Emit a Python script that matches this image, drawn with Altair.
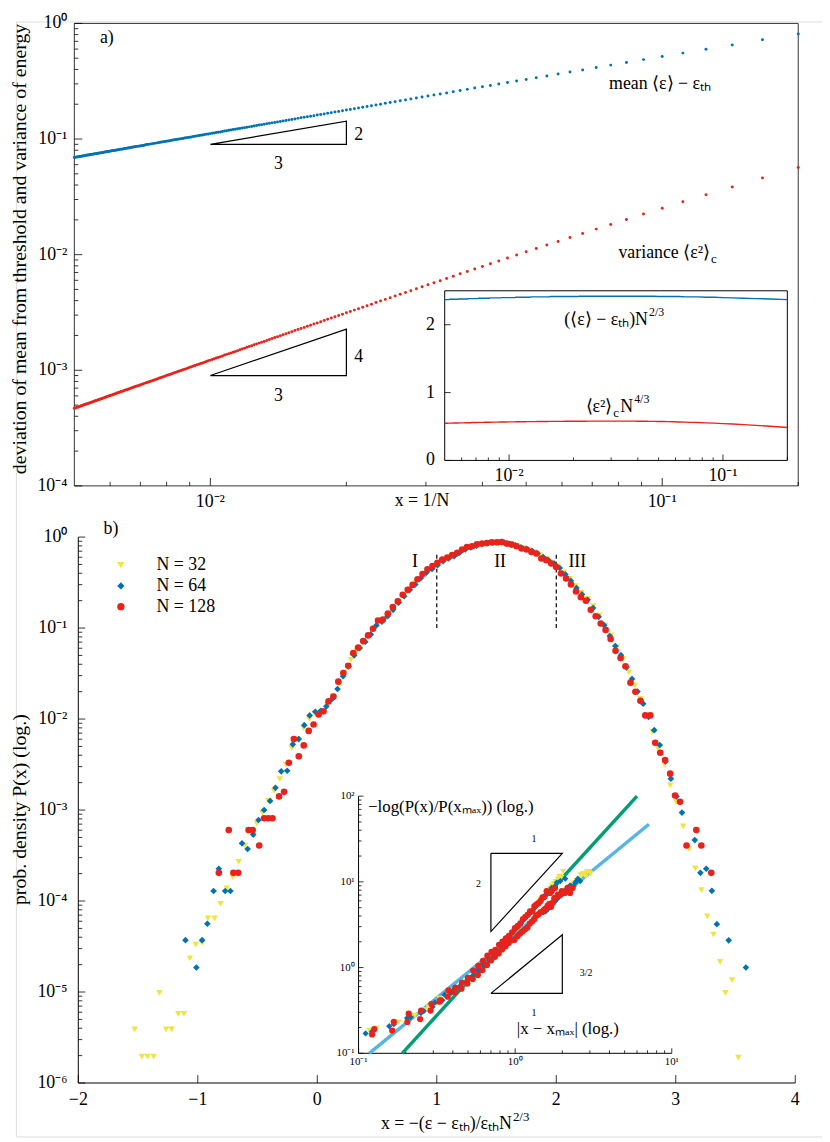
import altair as alt
import pandas as pd

FONT = "Liberation Serif"
BLUE = "#0072B2"
RED = "#E8231B"
YELLOW = "#F0E442"
GREEN = "#009E73"
SKY = "#56B4E9"

# ---------------- panel a data ----------------
N_VALUES = list(range(5, 201))
MEAN_AMP = [
    2.370, 2.380, 2.385, 2.390, 2.395,
    2.400, 2.405, 2.405, 2.410, 2.410, 2.410, 2.415, 2.415, 2.415, 2.415,
    2.415, 2.420, 2.420, 2.420, 2.420, 2.420, 2.420, 2.420, 2.420, 2.420,
    2.420, 2.420, 2.420, 2.420, 2.420, 2.420, 2.420, 2.420, 2.420, 2.420,
    2.420, 2.420, 2.420, 2.420, 2.420, 2.420, 2.420, 2.420, 2.415, 2.415,
    2.415, 2.415, 2.415, 2.415, 2.415, 2.415, 2.415, 2.415, 2.415, 2.415,
    2.415, 2.415, 2.415, 2.415, 2.415, 2.410, 2.410, 2.410, 2.410, 2.410,
    2.410, 2.410, 2.410, 2.410, 2.410, 2.410, 2.410, 2.410, 2.410, 2.410,
    2.405, 2.405, 2.405, 2.405, 2.405, 2.405, 2.405, 2.405, 2.405, 2.405,
    2.405, 2.405, 2.405, 2.405, 2.400, 2.400, 2.400, 2.400, 2.400, 2.400,
    2.400, 2.400, 2.400, 2.400, 2.400, 2.400, 2.400, 2.400, 2.400, 2.395,
    2.395, 2.395, 2.395, 2.395, 2.395, 2.395, 2.395, 2.395, 2.395, 2.395,
    2.395, 2.395, 2.395, 2.395, 2.390, 2.390, 2.390, 2.390, 2.390, 2.390,
    2.390, 2.390, 2.390, 2.390, 2.390, 2.390, 2.390, 2.390, 2.390, 2.390,
    2.385, 2.385, 2.385, 2.385, 2.385, 2.385, 2.385, 2.385, 2.385, 2.385,
    2.385, 2.385, 2.385, 2.385, 2.385, 2.385, 2.380, 2.380, 2.380, 2.380,
    2.380, 2.380, 2.380, 2.380, 2.380, 2.380, 2.380, 2.380, 2.380, 2.380,
    2.380, 2.380, 2.380, 2.375, 2.375, 2.375, 2.375, 2.375, 2.375, 2.375,
    2.375, 2.375, 2.375, 2.375, 2.375, 2.375, 2.375, 2.375, 2.375, 2.375,
    2.375, 2.370, 2.370, 2.370, 2.370, 2.370, 2.370, 2.370, 2.370, 2.370,
    2.370,
]
VAR_AMP = [
    0.485, 0.503, 0.516, 0.527, 0.536,
    0.543, 0.549, 0.554, 0.558, 0.561, 0.564, 0.567, 0.569, 0.571, 0.573,
    0.574, 0.575, 0.576, 0.577, 0.578, 0.578, 0.579, 0.579, 0.580, 0.580,
    0.580, 0.580, 0.580, 0.580, 0.580, 0.580, 0.580, 0.580, 0.580, 0.580,
    0.580, 0.580, 0.580, 0.580, 0.578, 0.578, 0.578, 0.578, 0.578, 0.578,
    0.578, 0.578, 0.578, 0.578, 0.578, 0.578, 0.576, 0.576, 0.576, 0.576,
    0.576, 0.576, 0.576, 0.576, 0.576, 0.576, 0.574, 0.574, 0.574, 0.574,
    0.574, 0.574, 0.574, 0.574, 0.574, 0.572, 0.572, 0.572, 0.572, 0.572,
    0.572, 0.572, 0.572, 0.572, 0.570, 0.570, 0.570, 0.570, 0.570, 0.570,
    0.570, 0.570, 0.570, 0.570, 0.568, 0.568, 0.568, 0.568, 0.568, 0.568,
    0.568, 0.568, 0.568, 0.566, 0.566, 0.566, 0.566, 0.566, 0.566, 0.566,
    0.566, 0.566, 0.564, 0.564, 0.564, 0.564, 0.564, 0.564, 0.564, 0.564,
    0.564, 0.564, 0.562, 0.562, 0.562, 0.562, 0.562, 0.562, 0.562, 0.562,
    0.562, 0.560, 0.560, 0.560, 0.560, 0.560, 0.560, 0.560, 0.560, 0.560,
    0.560, 0.558, 0.558, 0.558, 0.558, 0.558, 0.558, 0.558, 0.558, 0.558,
    0.558, 0.556, 0.556, 0.556, 0.556, 0.556, 0.556, 0.556, 0.556, 0.556,
    0.556, 0.556, 0.554, 0.554, 0.554, 0.554, 0.554, 0.554, 0.554, 0.554,
    0.554, 0.554, 0.552, 0.552, 0.552, 0.552, 0.552, 0.552, 0.552, 0.552,
    0.552, 0.552, 0.552, 0.550, 0.550, 0.550, 0.550, 0.550, 0.550, 0.550,
    0.550, 0.550, 0.550, 0.550, 0.548, 0.548, 0.548, 0.548, 0.548, 0.548,
    0.548,
]
TRI_A_ID = ["t1"] * 4 + ["t2"] * 4
TRI_A_I = [0, 1, 2, 3, 0, 1, 2, 3]
TRI_A_X = [0.01, 0.02, 0.02, 0.01, 0.01, 0.02, 0.02, 0.01]
TRI_A_Y = [0.09, 0.09, 0.1429, 0.09, 0.0009, 0.0009, 0.00227, 0.0009]

# ---------------- panel b data (x, log10 P) ----------------
Y32_X = [-1.528, -1.467, -1.420, -1.370, -1.321, -1.265, -1.218, -1.163, -1.116, -1.066,
         -1.017, -0.964, -0.915, -0.859, -0.810, -0.757, -0.708, -0.658, -0.606, -0.550,
         -0.506, -0.459, -0.410, -0.362,
         -0.313, -0.264, -0.214, -0.165, -0.115, -0.066, -0.016, 0.033, 0.083, 0.132,
         0.182, 0.231, 0.281, 0.330, 0.380, 0.429, 0.479, 0.528, 0.578, 0.627,
         0.677, 0.726, 0.776, 0.825, 0.875, 0.924, 0.974, 1.023, 1.073, 1.122,
         1.172, 1.221, 1.271, 1.320, 1.370, 1.419, 1.469, 1.518, 1.568, 1.617,
         1.667, 1.716, 1.766, 1.815, 1.865, 1.914, 1.964, 2.013, 2.063, 2.112,
         2.162, 2.211, 2.261, 2.310, 2.360, 2.409, 2.459, 2.508, 2.558, 2.607,
         2.657, 2.706, 2.756, 2.805, 2.855, 2.904, 2.954, 3.003,
         3.062, 3.112, 3.164, 3.214, 3.264, 3.316, 3.371, 3.416, 3.471, 3.524]
Y32_LP = [-5.41, -5.71, -5.71, -5.71, -5.01, -5.41, -5.41, -5.24, -5.24, -4.63,
          -4.48, -4.46, -4.19, -4.19, -4.03, -3.86, -3.74, -3.57, -3.39, -3.26,
          -3.15, -3.03, -2.90, -2.79,
          -2.66, -2.50, -2.32, -2.22, -2.10, -2.00, -1.94, -1.92, -1.85, -1.75,
          -1.62, -1.49, -1.35, -1.25, -1.16, -1.09, -1.00, -0.93, -0.87, -0.79,
          -0.71, -0.64, -0.57, -0.50, -0.43, -0.37, -0.33, -0.29, -0.25, -0.22,
          -0.19, -0.15, -0.12, -0.10, -0.085, -0.075, -0.068, -0.065, -0.068, -0.08,
          -0.095, -0.12, -0.14, -0.165, -0.20, -0.24, -0.28, -0.32, -0.39, -0.46,
          -0.54, -0.61, -0.68, -0.76, -0.86, -0.97, -1.08, -1.21, -1.34, -1.487,
          -1.63, -1.777, -1.96, -2.14, -2.33, -2.50, -2.73, -2.91,
          -3.18, -3.43, -3.64, -3.88, -4.17, -4.37, -4.67, -5.01, -4.87, -5.72]

B64_X = [-1.103, -1.012, -0.964, -0.920, -0.868, -0.824, -0.771, -0.727, -0.630, -0.583,
         -0.536, -0.492, -0.445, -0.395, -0.350, -0.302, -0.252, -0.205, -0.155, -0.109,
         -0.064, -0.017,
         0.030, 0.076, 0.123, 0.169, 0.216, 0.262, 0.309, 0.355, 0.402, 0.448,
         0.495, 0.541, 0.588, 0.634, 0.681, 0.727, 0.774, 0.820, 0.867, 0.913,
         0.960, 1.006, 1.053, 1.099, 1.146, 1.192, 1.239, 1.285, 1.332, 1.378,
         1.425, 1.471, 1.518, 1.564, 1.611, 1.657, 1.704, 1.750, 1.797, 1.843,
         1.890, 1.936, 1.983, 2.029, 2.076, 2.122, 2.169, 2.215, 2.262, 2.308,
         2.355, 2.401, 2.448, 2.494, 2.541, 2.587, 2.634, 2.680, 2.727, 2.773,
         2.820, 2.866, 2.913, 2.959, 3.006, 3.052,
         3.159, 3.206, 3.255, 3.302, 3.344, 3.443, 3.587]
B64_LP = [-4.43, -4.73, -4.43, -4.25, -3.89, -3.645, -3.89, -3.89, -3.366, -3.428,
          -3.27, -3.11, -3.00, -2.90, -2.756, -2.575, -2.568, -2.278, -2.22, -2.067,
          -1.96, -1.92,
          -1.91, -1.86, -1.78, -1.67, -1.53, -1.42, -1.30, -1.22, -1.15, -1.07,
          -0.97, -0.93, -0.87, -0.80, -0.72, -0.65, -0.58, -0.52, -0.45, -0.39,
          -0.35, -0.31, -0.265, -0.235, -0.21, -0.17, -0.135, -0.115, -0.095, -0.078,
          -0.068, -0.062, -0.058, -0.060, -0.074, -0.09, -0.112, -0.128, -0.152, -0.18,
          -0.22, -0.255, -0.29, -0.34, -0.41, -0.48, -0.56, -0.63, -0.69, -0.78,
          -0.877, -0.97, -1.088, -1.197, -1.298, -1.432, -1.559, -1.697, -1.831, -1.976,
          -2.122, -2.285, -2.466, -2.655, -2.85, -3.028,
          -3.33, -3.69, -3.645, -3.888, -4.254, -4.432, -4.73]

R128_X = [-0.824, -0.741, -0.702, -0.662, -0.575, -0.540, -0.486, -0.445, -0.410, -0.375,
          -0.320, -0.278, -0.238, -0.196, -0.155, -0.113, -0.072, -0.031, 0.011, 0.052,
          0.094, 0.135, 0.176, 0.218, 0.259, 0.301, 0.342, 0.384, 0.425, 0.466,
          0.508, 0.549, 0.591, 0.632, 0.674, 0.715, 0.757, 0.798, 0.839, 0.881,
          0.922, 0.964, 1.005, 1.046, 1.088, 1.129, 1.171, 1.212, 1.253, 1.295,
          1.336, 1.378, 1.419, 1.460, 1.502, 1.543, 1.585, 1.626, 1.668, 1.709,
          1.751, 1.792, 1.833, 1.875, 1.916, 1.958, 1.999, 2.040, 2.082, 2.123,
          2.165, 2.206, 2.248, 2.289, 2.330, 2.372, 2.413, 2.455, 2.496, 2.538,
          2.579, 2.621, 2.662, 2.704, 2.745, 2.787, 2.828, 2.870, 2.911, 2.953,
          2.994, 3.036, 3.090, 3.172, 3.214, 3.297]
R128_LP = [-3.69, -3.22, -3.69, -3.69, -3.22, -3.22, -3.39, -3.09, -3.09, -3.09,
           -2.85, -2.80, -2.48, -2.22, -2.41, -2.29, -2.13, -2.06, -1.95, -1.915,
           -1.806, -1.752, -1.589, -1.494, -1.415, -1.276, -1.215, -1.143, -1.081, -1.008,
           -0.917, -0.906, -0.841, -0.769, -0.707, -0.634, -0.580, -0.526, -0.464, -0.406,
           -0.355, -0.319, -0.283, -0.246, -0.224, -0.199, -0.174, -0.137, -0.109, -0.101,
           -0.080, -0.072, -0.065, -0.058, -0.058, -0.054, -0.072, -0.083, -0.101, -0.126,
           -0.137, -0.163, -0.181, -0.235, -0.254, -0.290, -0.330, -0.400, -0.455, -0.520,
           -0.598, -0.660, -0.700, -0.800, -0.870, -0.950, -1.020, -1.120, -1.250, -1.330,
           -1.420, -1.600, -1.700, -1.800, -1.960, -1.960, -2.260, -2.370, -2.450, -2.600,
           -2.840, -2.910, -3.390, -3.220, -3.390, -3.690]

SERIES = ["N = 32", "N = 64", "N = 128"]
SERIES_COLORS = [YELLOW, BLUE, RED]
SERIES_SHAPES = ["triangle-down", "diamond", "circle"]

REGION_X = [1.0, 2.0]
REGION_Y0 = [0.1, 0.1]
REGION_Y1 = [0.66, 0.66]

# inset b
X_MAX = 1.5
P_MAX = 1.0
FIT_ID = ["slope2", "slope2", "slope32", "slope32"]
FIT_X = [0.19, 6.0, 0.117, 7.15]
FIT_Y = [0.1, 100.0, 0.1, 47.0]
TRI_B_ID = ["u"] * 4 + ["l"] * 4
TRI_B_I = [0, 1, 2, 3, 0, 1, 2, 3]
TRI_B_X = [0.7, 2.0, 0.7, 0.7, 0.7, 2.0, 2.0, 0.7]
TRI_B_Y = [21.5, 21.5, 2.63, 21.5, 0.5, 0.5, 2.41, 0.5]

# ticks and tick labels
MINOR = [2, 3, 4, 5, 6, 7, 8, 9]
A_Y_MAJOR = [1e-4, 1e-3, 1e-2, 1e-1, 1.0]
A_Y_LABELS = ["10⁻⁴", "10⁻³", "10⁻²", "10⁻¹", "10⁰"]
A_Y_MINOR = [m * 10.0 ** d for d in (-4, -3, -2, -1) for m in MINOR]
A_X_MAJOR = [0.01, 0.1]
A_X_LABELS = ["10⁻²", "10⁻¹"]
A_X_MINOR = [0.006, 0.007, 0.008, 0.009] + [m * 0.01 for m in MINOR] + [0.2]
IA_Y_MAJOR = [0, 1, 2]
IA_Y_LABELS = ["0", "1", "2"]
B_X_MAJOR = [-2, -1, 0, 1, 2, 3, 4]
B_X_LABELS = ["−2", "−1", "0", "1", "2", "3", "4"]
B_Y_MAJOR = [1e-6, 1e-5, 1e-4, 1e-3, 1e-2, 1e-1, 1.0]
B_Y_LABELS = ["10⁻⁶", "10⁻⁵", "10⁻⁴", "10⁻³", "10⁻²", "10⁻¹", "10⁰"]
B_Y_MINOR = [m * 10.0 ** d for d in range(-6, 0) for m in MINOR]
IB_X_MAJOR = [0.1, 1.0, 10.0]
IB_X_LABELS = ["10⁻¹", "10⁰", "10¹"]
IB_X_MINOR = [m * 10.0 ** d for d in (-1, 0) for m in MINOR]
IB_Y_MAJOR = [0.1, 1.0, 10.0, 100.0]
IB_Y_LABELS = ["10⁻¹", "10⁰", "10¹", "10²"]
IB_Y_MINOR = [m * 10.0 ** d for d in (-1, 0, 1) for m in MINOR]

# ---------------- layout (pixels in the plotting group) ----------------
W, H = 814, 1126
AX = [59, 790]; AY = [469, 2]
IAX = [433, 779]; IAY = [443.3, 272]
BX = [63, 787]; BY = [1072, 520.7]
IBX = [346, 662.3]; IBY = [1042, 782.3]

scA_x = alt.Scale(type="log", domain=[0.005, 0.2], range=AX)
scA_y = alt.Scale(type="log", domain=[1e-4, 1.0], range=AY)
scIA_x = alt.Scale(type="log", domain=[0.005, 0.2], range=IAX)
scIA_y = alt.Scale(type="linear", domain=[0, 2.5], range=IAY)
scB_x = alt.Scale(type="linear", domain=[-2, 4], range=BX)
scB_y = alt.Scale(type="log", domain=[1e-6, 1.0], range=BY)
scIB_x = alt.Scale(type="log", domain=[0.1, 10], range=IBX)
scIB_y = alt.Scale(type="log", domain=[0.1, 100], range=IBY)


def yticks(vals, sc, x0, length):
    return alt.Chart(pd.DataFrame({"v": vals})).mark_rule(color="black", strokeWidth=0.8).encode(
        y=alt.Y("v:Q", scale=sc, axis=None), x=alt.value(x0), x2=alt.value(x0 + length))


def xticks(vals, sc, y0, length):
    return alt.Chart(pd.DataFrame({"v": vals})).mark_rule(color="black", strokeWidth=0.8).encode(
        x=alt.X("v:Q", scale=sc, axis=None), y=alt.value(y0), y2=alt.value(y0 - length))


def texts(rows, sx, sy, size=18, **kw):
    df = pd.DataFrame(rows, columns=["t", "x", "y"])
    return alt.Chart(df).mark_text(font=FONT, color="black", fontSize=size, **kw).encode(
        x=alt.X("x:Q", scale=sx, axis=None), y=alt.Y("y:Q", scale=sy, axis=None), text="t:N")


def ylabels(vals, labels, x_at, sx, sy, pad, size):
    rows = [(t, x_at, v) for t, v in zip(labels, vals)]
    return texts(rows, sx, sy, size=size, align="right", dx=-pad)


def xlabels(vals, labels, y_at, sx, sy, pad, size):
    rows = [(t, v, y_at) for t, v in zip(labels, vals)]
    return texts(rows, sx, sy, size=size, align="center", dy=pad)


def frame(x0, x1, y0, y1, sx, sy, **kw):
    df = pd.DataFrame({"x0": [x0], "x1": [x1], "y0": [y0], "y1": [y1]})
    return alt.Chart(df).mark_rect(**kw).encode(
        x=alt.X("x0:Q", scale=sx, axis=None), x2="x1:Q",
        y=alt.Y("y0:Q", scale=sy, axis=None), y2="y1:Q")


def axis_lines(x0, x1, y0, y1, sx, sy):
    # left spine at x0 (y0..y1) and bottom spine at y0 (x0..x1)
    left = alt.Chart(pd.DataFrame({"x": [x0], "y0": [y0], "y1": [y1]})).mark_rule(
        color="black", strokeWidth=1).encode(
        x=alt.X("x:Q", scale=sx, axis=None), y=alt.Y("y0:Q", scale=sy, axis=None), y2="y1:Q")
    bottom = alt.Chart(pd.DataFrame({"y": [y0], "x0": [x0], "x1": [x1]})).mark_rule(
        color="black", strokeWidth=1).encode(
        y=alt.Y("y:Q", scale=sy, axis=None), x=alt.X("x0:Q", scale=sx, axis=None), x2="x1:Q")
    return left, bottom


# ---------------- panel a ----------------
dfA = pd.DataFrame({"N": N_VALUES, "mean_amp": MEAN_AMP, "var_amp": VAR_AMP})
baseA = alt.Chart(dfA).transform_calculate(
    inv="1 / datum.N",
    mean="datum.mean_amp * pow(datum.N, -2/3)",
    variance="datum.var_amp * pow(datum.N, -4/3)")

pts_mean = baseA.mark_circle(size=9, color=BLUE, opacity=1).encode(
    x=alt.X("inv:Q", scale=scA_x, axis=None),
    y=alt.Y("mean:Q", scale=scA_y, axis=None))
pts_var = baseA.mark_circle(size=9, color=RED, opacity=1).encode(
    x=alt.X("inv:Q", scale=scA_x, axis=None),
    y=alt.Y("variance:Q", scale=scA_y, axis=None))
triA = alt.Chart(pd.DataFrame({"tri": TRI_A_ID, "i": TRI_A_I, "x": TRI_A_X, "y": TRI_A_Y})).mark_line(
    color="black", strokeWidth=1.2).encode(
    x=alt.X("x:Q", scale=scA_x, axis=None), y=alt.Y("y:Q", scale=scA_y, axis=None),
    detail="tri:N", order="i:Q")

panelA = alt.layer(
    frame(0.005, 0.2, 1e-4, 1.0, scA_x, scA_y, fillOpacity=0, stroke="#333", strokeWidth=1),
    yticks(A_Y_MAJOR, scA_y, AX[0], 8), yticks(A_Y_MINOR, scA_y, AX[0], 4),
    xticks(A_X_MAJOR, scA_x, AY[0], 8), xticks(A_X_MINOR, scA_x, AY[0], 4),
    ylabels(A_Y_MAJOR, A_Y_LABELS, 0.005, scA_x, scA_y, 7, 18),
    xlabels(A_X_MAJOR, A_X_LABELS, 1e-4, scA_x, scA_y, 16, 18),
    pts_mean, pts_var, triA,
    texts([("a)", 0.0059, 0.744), ("mean ⟨ε⟩ − εₜₕ", 0.0989, 0.30),
           ("x = 1/N", 0.0294, 7.44e-5),
           ("2", 0.0213, 0.1077), ("3", 0.01414, 0.0608),
           ("4", 0.0213, 0.0013), ("3", 0.01414, 0.000602)], scA_x, scA_y),
    texts([("variance ⟨ε²⟩", 0.1276, 0.0103)], scA_x, scA_y, align="right"),
    texts([("c", 0.1276, 0.0103)], scA_x, scA_y, size=13, align="left", dx=1, dy=6),
    texts([("deviation of mean from threshold and variance of energy", 0.00380, 0.0112)],
          scA_x, scA_y, size=20, angle=270),
)

# ---------------- inset a ----------------
line_mean = baseA.mark_line(color=BLUE, strokeWidth=1.4).encode(
    x=alt.X("inv:Q", scale=scIA_x, axis=None),
    y=alt.Y("mean_amp:Q", scale=scIA_y, axis=None),
    order="inv:Q")
line_var = baseA.mark_line(color=RED, strokeWidth=1.4).encode(
    x=alt.X("inv:Q", scale=scIA_x, axis=None),
    y=alt.Y("var_amp:Q", scale=scIA_y, axis=None),
    order="inv:Q")

insetA = alt.layer(
    frame(0.005, 0.2, 0, 2.5, scIA_x, scIA_y, fill="white", stroke="black", strokeWidth=1),
    xticks(A_X_MAJOR, scIA_x, IAY[0], 6), xticks(A_X_MINOR, scIA_x, IAY[0], 3),
    yticks(IA_Y_MAJOR, scIA_y, IAX[0], 6),
    ylabels(IA_Y_MAJOR, IA_Y_LABELS, 0.005, scIA_x, scIA_y, 10, 18),
    xlabels(A_X_MAJOR, A_X_LABELS, 0, scIA_x, scIA_y, 16, 18),
    line_mean, line_var,
    texts([("(⟨ε⟩ − εₜₕ)N", 0.0446, 2.07)], scIA_x, scIA_y, align="right"),
    texts([("2/3", 0.0446, 2.07)], scIA_x, scIA_y, size=12, align="left", dx=1, dy=-8),
    texts([("⟨ε²⟩", 0.0304, 0.79)], scIA_x, scIA_y, align="right"),
    texts([("c", 0.0304, 0.79)], scIA_x, scIA_y, size=13, align="left", dx=1, dy=6),
    texts([("N", 0.0304, 0.79)], scIA_x, scIA_y, align="left", dx=8),
    texts([("4/3", 0.0304, 0.79)], scIA_x, scIA_y, size=12, align="left", dx=22, dy=-8),
)

# ---------------- panel b ----------------
dfB = pd.concat([
    pd.DataFrame({"series": SERIES[0], "x": Y32_X, "lp": Y32_LP}),
    pd.DataFrame({"series": SERIES[1], "x": B64_X, "lp": B64_LP}),
    pd.DataFrame({"series": SERIES[2], "x": R128_X, "lp": R128_LP}),
], ignore_index=True)
baseB = alt.Chart(dfB).transform_calculate(P="pow(10, datum.lp)")

LEG = alt.Legend(orient="none", legendX=97, legendY=540, title=None, labelFont=FONT,
                 labelFontSize=18, labelColor="black", symbolSize=55, symbolStrokeWidth=0,
                 labelOffset=27, rowPadding=3, padding=0)
colorEnc = alt.Color("series:N", scale=alt.Scale(domain=SERIES, range=SERIES_COLORS), legend=LEG)
shapeEnc = alt.Shape("series:N", scale=alt.Scale(domain=SERIES, range=SERIES_SHAPES), legend=LEG)

ptsB = baseB.mark_point(filled=True, opacity=1, size=45, strokeWidth=0).encode(
    x=alt.X("x:Q", scale=scB_x, axis=None),
    y=alt.Y("P:Q", scale=scB_y, axis=None),
    color=colorEnc, shape=shapeEnc)
regions = alt.Chart(pd.DataFrame({"x": REGION_X, "y0": REGION_Y0, "y1": REGION_Y1})).mark_rule(
    color="black", strokeDash=[4, 3], strokeWidth=1.2).encode(
    x=alt.X("x:Q", scale=scB_x, axis=None), y=alt.Y("y0:Q", scale=scB_y, axis=None), y2="y1:Q")
b_left, b_bottom = axis_lines(-2, 4, 1e-6, 1.0, scB_x, scB_y)

panelB = alt.layer(
    b_left, b_bottom,
    yticks(B_Y_MAJOR, scB_y, BX[0], 7), yticks(B_Y_MINOR, scB_y, BX[0], 4),
    xticks(B_X_MAJOR, scB_x, BY[0], 8),
    ylabels(B_Y_MAJOR, B_Y_LABELS, -2, scB_x, scB_y, 11, 18),
    xlabels(B_X_MAJOR, B_X_LABELS, 1e-6, scB_x, scB_y, 17, 18),
    regions, ptsB,
    texts([("b)", -1.727, 1.24), ("I", 0.817, 0.53), ("II", 1.53, 0.53), ("III", 2.176, 0.53)],
          scB_x, scB_y),
    texts([("x = −(ε − εₜₕ)/εₜₕN", 1.629, 3.5e-7)], scB_x, scB_y, align="right"),
    texts([("2/3", 1.629, 3.5e-7)], scB_x, scB_y, size=13, align="left", dx=1, dy=-8),
    texts([("prob. density P(x) (log.)", -2.49, 1.01e-3)], scB_x, scB_y, size=20, angle=270),
)

# ---------------- inset b ----------------
dfFit = pd.DataFrame({"fit": FIT_ID, "x": FIT_X, "y": FIT_Y})
fit2 = alt.Chart(dfFit).transform_filter("datum.fit == 'slope2'").mark_line(
    color=GREEN, strokeWidth=3.5).encode(
    x=alt.X("x:Q", scale=scIB_x, axis=None), y=alt.Y("y:Q", scale=scIB_y, axis=None))
fit32 = alt.Chart(dfFit).transform_filter("datum.fit == 'slope32'").mark_line(
    color=SKY, strokeWidth=3.5).encode(
    x=alt.X("x:Q", scale=scIB_x, axis=None), y=alt.Y("y:Q", scale=scIB_y, axis=None))
triB = alt.Chart(pd.DataFrame({"tri": TRI_B_ID, "i": TRI_B_I, "x": TRI_B_X, "y": TRI_B_Y})).mark_line(
    color="black", strokeWidth=1.2).encode(
    x=alt.X("x:Q", scale=scIB_x, axis=None), y=alt.Y("y:Q", scale=scIB_y, axis=None),
    detail="tri:N", order="i:Q")
ptsIB = baseB.transform_calculate(
    dx=f"abs(datum.x - {X_MAX})", yy=f"-log(datum.P / {P_MAX})"
).transform_filter("datum.dx >= 0.1 && datum.yy >= 0.1").mark_point(
    filled=True, opacity=1, size=40, strokeWidth=0).encode(
    x=alt.X("dx:Q", scale=scIB_x, axis=None),
    y=alt.Y("yy:Q", scale=scIB_y, axis=None),
    color=colorEnc, shape=shapeEnc)
ib_left, ib_bottom = axis_lines(0.1, 10, 0.1, 100, scIB_x, scIB_y)

insetB = alt.layer(
    ib_left, ib_bottom,
    yticks(IB_Y_MAJOR, scIB_y, IBX[0], 5), yticks(IB_Y_MINOR, scIB_y, IBX[0], 3),
    xticks(IB_X_MAJOR, scIB_x, IBY[0], 5), xticks(IB_X_MINOR, scIB_x, IBY[0], 3),
    ylabels(IB_Y_MAJOR, IB_Y_LABELS, 0.1, scIB_x, scIB_y, 4, 11),
    xlabels(IB_X_MAJOR, IB_X_LABELS, 0.1, scIB_x, scIB_y, 9, 11),
    fit2, fit32, triB, ptsIB,
    texts([("−log(P(x)/P(xₘₐₓ)) (log.)", 0.115, 75), ("|x − xₘₐₓ| (log.)", 1.025, 0.193)],
          scIB_x, scIB_y, size=17, align="left"),
    texts([("1", 1.32, 32), ("2", 0.583, 9.4), ("3/2", 2.84, 0.87), ("1", 1.32, 0.297)],
          scIB_x, scIB_y, size=10),
)

chart = alt.layer(panelA, insetA, panelB, insetB).resolve_scale(
    x="independent", y="independent"
).properties(
    width=W, height=H,
    autosize=alt.AutoSizeParams(type="none"),
    padding={"left": 8, "top": 8, "right": 0, "bottom": 0},
).configure_view(strokeWidth=0).configure(font=FONT)

chart.save("out.html", embed_options={"renderer": "svg", "actions": False})
